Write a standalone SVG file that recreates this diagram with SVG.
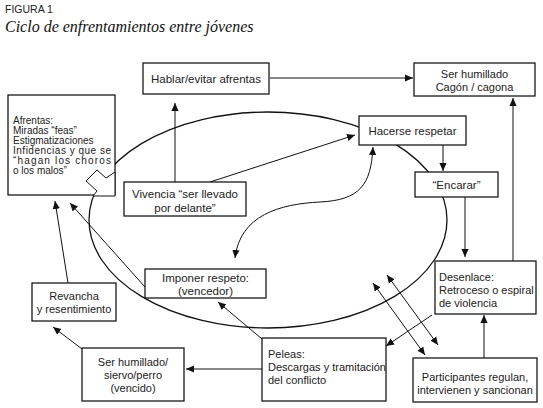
<svg xmlns="http://www.w3.org/2000/svg" width="543" height="408" viewBox="0 0 543 408">
<defs>
<marker id="ah" viewBox="0 0 10 10" refX="10" refY="5" markerWidth="8" markerHeight="8" markerUnits="userSpaceOnUse" orient="auto-start-reverse"><path d="M0,0.5 L10,5 L0,9.5 z" fill="#111"/></marker>
</defs>
<style>
.box{fill:#fff;stroke:#111;stroke-width:1.25}
.t{font-family:"Liberation Sans",Arial,sans-serif;font-size:11px;fill:#222}
.c{text-anchor:middle}
.b{font-size:11.5px}
.s{font-size:10px}
.ln{fill:none;stroke:#111;stroke-width:1}
.arr{marker-end:url(#ah)}
.dbl{marker-start:url(#ah);marker-end:url(#ah)}
</style>
<rect width="543" height="408" fill="#fff"/>
<text x="5" y="13" class="t" style="font-size:10.5px">FIGURA 1</text>
<text x="5" y="32" style="font-family:'Liberation Serif','Times New Roman',serif;font-style:italic;font-size:16px;fill:#111">Ciclo de enfrentamientos entre jóvenes</text>

<ellipse id="cycle" cx="268" cy="220" rx="179" ry="108" fill="none" stroke="#111" stroke-width="1.3"/>

<g id="connectors">
<path class="ln arr" d="M270,78 H413"/>
<path class="ln arr" d="M175,182 V103"/>
<path class="ln arr" d="M210,182 L355,135"/>
<path class="ln dbl" d="M373,147 C371,185 360,200 320,202 C280,204 240,215 235,258"/>
<path class="ln arr" d="M443,145 V171"/>
<path class="ln arr" d="M465,197 V257"/>
<path class="ln arr" d="M513,261 V98"/>
<path class="ln arr" d="M484,358 V315"/>
<path class="ln arr" d="M432,315 L386,346"/>
<path class="ln dbl" d="M387,275 L438,345"/>
<path class="ln dbl" d="M373,283 L425,355"/>
<path class="ln arr" d="M262,369 H186"/>
<path class="ln arr" d="M262,339 L218,302"/>
<path class="ln arr" d="M82,349 L53,327"/>
<path class="ln arr" d="M68,283 L55,201"/>
<path class="ln arr" d="M145,287 L70,203"/>
</g>

<g id="afrentas">
<rect class="box" x="8" y="95" width="107" height="100"/>
<text class="t s" x="13" y="124">Afrentas:</text>
<text class="t s" x="13" y="134">Miradas “feas”</text>
<text class="t s" x="13" y="144">Estigmatizaciones</text>
<text class="t s" x="13" y="154" textLength="98" lengthAdjust="spacing">Infidencias y que se</text>
<text class="t s" x="13" y="164" textLength="98" lengthAdjust="spacing">“hagan los choros</text>
<text class="t s" x="13" y="174">o los malos”</text>
<polygon points="86,181 97,170 106,178 115,172 115,196 93,196 97,191" fill="#fff" stroke="#111" stroke-width="1"/>
</g>

<g id="hablar">
<rect class="box" x="143" y="63" width="126" height="31"/>
<text class="t b c" x="206" y="83">Hablar/evitar afrentas</text>
</g>

<g id="humillado1">
<rect class="box" x="414" y="63" width="121" height="33"/>
<text class="t c" x="474.5" y="78">Ser humillado</text>
<text class="t c" x="474.5" y="91">Cagón / cagona</text>
</g>

<g id="hacerse">
<rect class="box" x="359" y="116" width="107" height="29"/>
<text class="t b c" x="412.5" y="135">Hacerse respetar</text>
</g>

<g id="vivencia">
<rect class="box" x="124" y="182" width="122" height="34"/>
<text class="t b c" x="185" y="198">Vivencia “ser llevado</text>
<text class="t b c" x="185" y="212">por delante”</text>
</g>

<g id="encarar">
<rect class="box" x="415" y="172" width="83" height="25"/>
<text class="t b c" x="456.5" y="189">“Encarar”</text>
</g>

<g id="desenlace">
<rect class="box" x="435" y="261" width="101" height="53"/>
<text class="t" x="439" y="281">Desenlace:</text>
<text class="t" x="439" y="294">Retroceso o espiral</text>
<text class="t" x="439" y="307">de violencia</text>
</g>

<g id="imponer">
<rect class="box" x="145" y="269" width="121" height="29"/>
<text class="t b c" x="205.5" y="282">Imponer respeto:</text>
<text class="t b c" x="205.5" y="295">(vencedor)</text>
</g>

<g id="revancha">
<rect class="box" x="32" y="283" width="84" height="38"/>
<text class="t c" x="74" y="300">Revancha</text>
<text class="t c" x="74" y="313">y resentimiento</text>
</g>

<g id="humillado2">
<rect class="box" x="82" y="348" width="102" height="53"/>
<text class="t c" x="133" y="366">Ser humillado/</text>
<text class="t c" x="133" y="379">siervo/perro</text>
<text class="t c" x="133" y="392">(vencido)</text>
</g>

<g id="peleas">
<rect class="box" x="262" y="338" width="124" height="63"/>
<text class="t" x="268" y="358">Peleas:</text>
<text class="t" x="268" y="371">Descargas y tramitación</text>
<text class="t" x="268" y="384">del conflicto</text>
</g>

<g id="participantes">
<rect class="box" x="413" y="358" width="124" height="44"/>
<text class="t c" x="475" y="381">Participantes regulan,</text>
<text class="t c" x="475" y="394">intervienen y sancionan</text>
</g>
</svg>
